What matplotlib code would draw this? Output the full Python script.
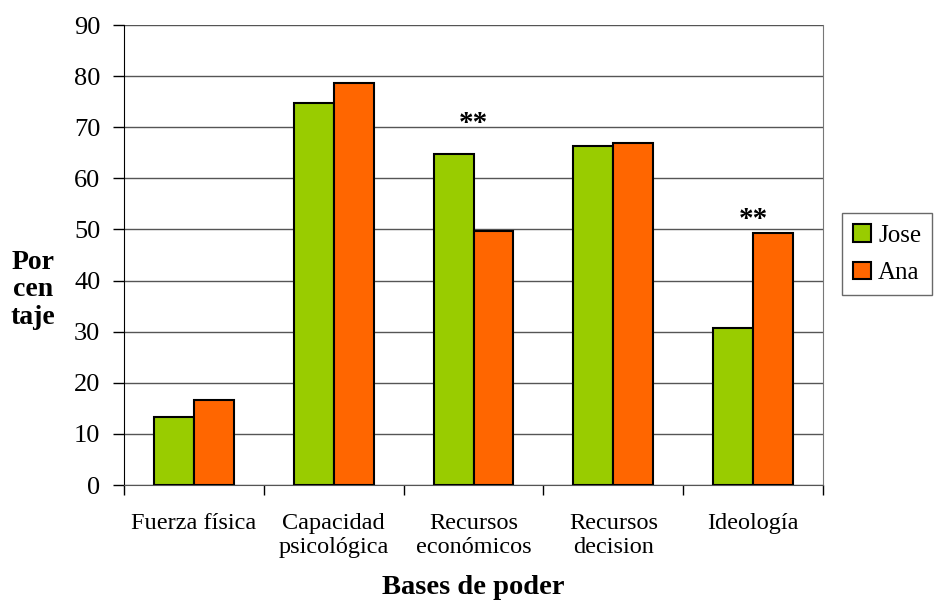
import matplotlib
matplotlib.use("Agg")
import matplotlib.pyplot as plt
import numpy as np

categories = ["Fuerza física", "Capacidad\npsicológica", "Recursos\neconómicos",
              "Recursos\ndecision", "Ideología"]
jose = [13.3, 74.7, 64.7, 66.3, 30.7]
ana = [16.7, 78.7, 49.7, 67.0, 49.3]
y_ticks = [0, 10, 20, 30, 40, 50, 60, 70, 80, 90]
significance = {2: 70.8, 4: 52.0}

plt.rcParams["font.family"] = ["Liberation Serif", "DejaVu Serif"]

fig = plt.figure(figsize=(9.34, 6.02), dpi=100)
ax = fig.add_axes([124 / 934, 1 - 485 / 602, (823 - 124) / 934, (485 - 25) / 602])

x = np.arange(len(categories))
w = 0.286
ax.bar(x - w / 2, jose, w, color="#99CC00", edgecolor="black", linewidth=1.5,
       label="Jose", zorder=3)
ax.bar(x + w / 2, ana, w, color="#FF6600", edgecolor="black", linewidth=1.5,
       label="Ana", zorder=3)

for idx, yv in significance.items():
    ax.text(idx, yv, "**", ha="center", va="center", fontsize=21,
            fontweight="bold", zorder=4)

ax.set_xlim(-0.5, len(categories) - 0.5)
ax.set_ylim(0, 90)
ax.set_yticks(y_ticks)
ax.set_yticklabels([str(t) for t in y_ticks], fontsize=19)
ax.yaxis.grid(True, color="#555555", linewidth=1.0, zorder=0)
ax.tick_params(axis="y", direction="out", length=8, width=1, pad=9)

ax.set_xticks(x)
ax.set_xticklabels(categories, fontsize=17.5, linespacing=1.2)
ax.tick_params(axis="x", length=0, pad=20)
ax.set_xticks(np.arange(-0.5, len(categories)), minor=True)
ax.tick_params(axis="x", which="minor", direction="out", length=7, width=1)

ax.spines["top"].set_visible(False)
ax.spines["left"].set_color("black")
ax.spines["bottom"].set_color("#555555")
ax.spines["right"].set_color("#777777")

ax.set_xlabel("Bases de poder", fontsize=20.5, fontweight="bold", labelpad=12)
fig.text(33 / 934, 1 - 290 / 602, "Por\ncen\ntaje", fontsize=20,
         fontweight="bold", ha="center", va="center", linespacing=1.15)

leg = ax.legend(loc="center left", bbox_to_anchor=(1.027, 0.502), fontsize=18,
                frameon=True, fancybox=False, edgecolor="#444444",
                handlelength=0.7, handleheight=0.7, handletextpad=0.3,
                borderpad=0.45, labelspacing=0.6, borderaxespad=0)
leg.get_frame().set_linewidth(1)

fig.savefig("out.png", dpi=100)
